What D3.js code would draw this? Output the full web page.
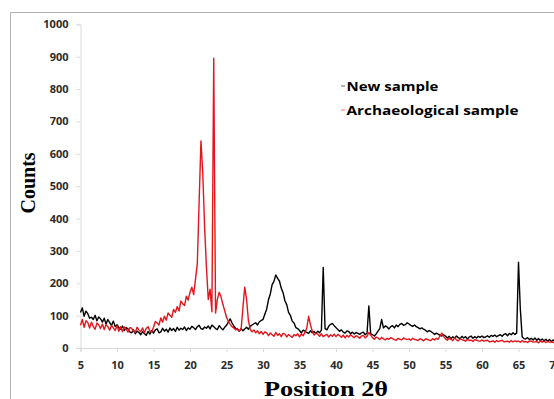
<!DOCTYPE html>
<html>
<head>
<meta charset="utf-8">
<script src="https://cdn.jsdelivr.net/npm/d3@7"></script>
<style>
  body { margin: 0; background: #fff; }
  svg { display: block; }
</style>
</head>
<body>
<div id="chart"></div>
<script>
const elem = "#chart"

const width = 554
const height = 399

// scan: 5 to 70 deg 2-theta, one reading every 0.25 deg
const angleStart = 5
const angleStep = 0.25

const newSample = [
  110,124,98,114,106,92,95,88,101,84,96,90,80,92,74,88,78,70,83,66,
  72,63,58,68,54,63,59,50,47,56,44,52,48,41,50,45,39,51,43,54,
  46,56,59,47,50,61,52,58,49,62,54,60,51,64,55,61,57,65,54,62,
  58,67,63,57,66,70,60,58,65,61,68,59,71,66,60,57,69,62,56,64,
  70,80,90,78,68,61,58,52,60,53,59,64,58,67,71,75,78,71,81,85,
  88,104,120,149,167,196,206,226,215,207,185,171,146,134,110,101,83,77,63,60,
  54,47,55,52,48,45,53,47,51,45,52,47,55,249,60,56,67,73,76,69,
  63,57,52,56,49,46,53,51,44,49,43,48,45,42,47,49,41,46,130,44,
  41,37,43,52,60,88,62,68,65,59,66,69,62,71,66,73,76,70,72,78,
  74,70,67,71,66,63,59,62,58,55,50,54,51,47,42,46,43,39,37,41,
  37,31,36,29,35,30,37,32,29,36,31,35,28,34,37,30,35,31,36,33,
  37,32,34,38,33,39,36,40,35,38,41,36,42,44,38,45,41,47,42,46,
  265,120,35,29,28,32,26,30,25,31,24,29,23,28,22,27,21,26,20,25,
  22
]

const archSample = [
  70,88,64,84,79,62,80,66,58,77,71,60,74,57,72,66,55,70,62,54,
  69,52,66,50,65,58,49,63,61,52,48,64,56,50,62,47,60,66,52,49,
  64,82,77,71,93,80,98,86,108,101,95,119,110,128,114,145,137,131,160,148,
  172,188,165,212,260,450,640,540,375,250,150,182,112,895,108,150,172,158,135,116,
  95,82,74,66,62,56,60,52,58,125,188,150,85,58,50,56,47,53,44,51,
  42,50,47,38,46,41,36,48,39,44,35,45,43,34,42,37,33,41,38,44,
  34,44,38,48,62,98,72,52,40,46,43,36,44,35,39,42,34,41,36,43,
  35,42,38,33,40,31,39,34,41,36,32,38,35,30,37,39,31,36,48,40,
  32,27,34,31,26,33,28,25,30,27,32,29,26,24,30,27,25,31,28,26,
  28,24,30,27,25,23,29,26,22,28,27,24,23,29,25,30,27,38,46,36,
  28,24,30,27,23,32,25,22,28,26,24,21,27,23,25,20,26,24,22,21,
  25,21,23,24,19,20,22,18,23,20,22,24,19,20,21,18,23,19,22,20,
  21,18,23,19,20,17,22,21,18,19,20,16,22,18,21,17,20,18,19,17,
  18
]

const seriesNames = ["New sample", "Archaeological sample"]
const seriesColors = ["#000000", "#e3161b"]
const xTicks = [5, 10, 15, 20, 25, 30, 35, 40, 45, 50, 55, 60, 65, 70]
const yTicks = [0, 100, 200, 300, 400, 500, 600, 700, 800, 900, 1000]

const x = d3.scaleLinear().domain([5, 70]).range([80.5, 555])
const y = d3.scaleLinear().domain([0, 1000]).range([348, 24.3])

const svg = d3.select(elem)
  .append("svg")
  .attr("width", width)
  .attr("height", height)
  .attr("viewBox", [0, 0, width, height]);

// chart area frame (runs off the right and bottom edge)
svg.append("path")
  .attr("d", "M10.5,400V12.5H560")
  .attr("fill", "none")
  .attr("stroke", "#b3b3b3")
  .attr("stroke-width", 1);

const tickFont = "'Open Sans', sans-serif"

const yAxis = svg.append("g")
  .attr("transform", "translate(80.5,0)")
  .call(d3.axisLeft(y).tickValues(yTicks).tickSize(4).tickPadding(8).tickFormat(d3.format("d")));

const xAxis = svg.append("g")
  .attr("transform", "translate(0,348)")
  .call(d3.axisBottom(x).tickValues(xTicks).tickSize(4).tickPadding(9).tickFormat(d3.format("d")));

[yAxis, xAxis].forEach(g => {
  g.select(".domain").attr("stroke", "#d9d9d9");
  g.selectAll(".tick line").attr("stroke", "#d9d9d9");
  g.selectAll(".tick text")
    .attr("fill", "#2b2b2b")
    .attr("font-family", tickFont)
    .attr("font-weight", "bold")
    .attr("font-size", 11);
});

const line = d3.line()
  .x((d, i) => x(angleStart + i * angleStep))
  .y(d => y(d));

[newSample, archSample].forEach((data, k) => {
  svg.append("path")
    .datum(data)
    .attr("fill", "none")
    .attr("stroke", seriesColors[k])
    .attr("stroke-width", 1.4)
    .attr("stroke-linejoin", "round")
    .attr("d", line);
});

// legend
const legend = svg.append("g");
const legendY = [86, 110];
const legendWidths = [92, 172];
seriesNames.forEach((name, k) => {
  legend.append("line")
    .attr("x1", 341).attr("x2", 345)
    .attr("y1", legendY[k]).attr("y2", legendY[k])
    .attr("stroke", seriesColors[k])
    .attr("stroke-opacity", 0.6);
  legend.append("text")
    .attr("x", 346.5)
    .attr("y", legendY[k] + 5)
    .attr("font-family", tickFont)
    .attr("font-weight", "bold")
    .attr("font-size", 13)
    .attr("textLength", legendWidths[k])
    .attr("lengthAdjust", "spacingAndGlyphs")
    .attr("fill", "#000")
    .text(name);
});

// axis titles
svg.append("text")
  .attr("transform", "translate(35,183) rotate(-90)")
  .attr("text-anchor", "middle")
  .attr("font-family", "'Liberation Serif', 'Times New Roman', serif")
  .attr("font-weight", "bold")
  .attr("font-size", 20)
  .text("Counts");

svg.append("text")
  .attr("x", 264)
  .attr("y", 396)
  .attr("font-family", "'Liberation Serif', 'Times New Roman', serif")
  .attr("font-weight", "bold")
  .attr("font-size", 20)
  .attr("textLength", 124)
  .attr("lengthAdjust", "spacingAndGlyphs")
  .text("Position 2θ");

const chart = svg.node();
</script>
</body>
</html>
